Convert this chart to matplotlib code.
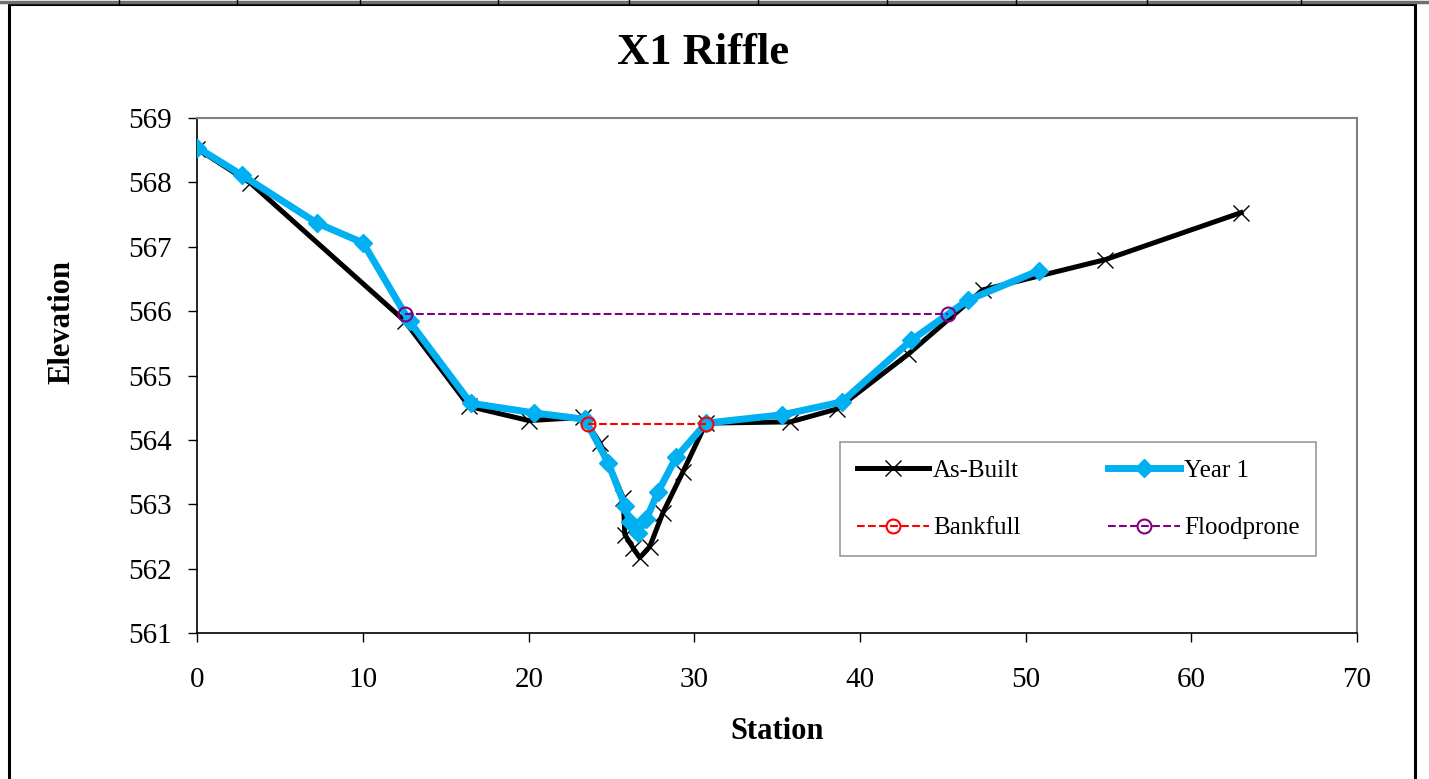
"""X1 Riffle cross-section: as-built vs year 1 survey."""

import matplotlib
matplotlib.use("Agg")
import matplotlib.pyplot as plt
from matplotlib.lines import Line2D
from matplotlib.patches import Rectangle

plt.rcParams['font.family'] = ['Liberation Serif', 'DejaVu Serif']

# As-built survey
asbuilt_station = [0.0, 3.2, 12.5, 16.4, 20.0, 23.3, 24.3, 25.7, 25.8, 26.3, 26.7,
                   27.3, 28.1, 29.3, 30.7, 35.8, 38.6, 42.9, 47.4, 54.8, 63.0]
asbuilt_elev = [568.52, 567.99, 565.85, 564.52, 564.30, 564.35, 563.95, 563.10, 562.53,
                562.32, 562.17, 562.34, 562.87, 563.50, 564.26, 564.28, 564.48, 565.33,
                566.33, 566.80, 567.53]

# Year 1 survey
year1_station = [0.0, 2.7, 7.2, 10.0, 12.8, 16.5, 20.3, 23.4, 24.8, 25.8, 26.1, 26.6,
                 27.1, 27.8, 28.9, 30.7, 35.3, 38.9, 43.1, 46.5, 50.8]
year1_elev = [568.54, 568.11, 567.37, 567.06, 565.84, 564.57, 564.42, 564.32, 563.64,
              562.98, 562.73, 562.56, 562.77, 563.19, 563.73, 564.26, 564.39, 564.59,
              565.55, 566.17, 566.63]

bankfull_station = [23.6, 30.7]
bankfull_elev = [564.25, 564.25]

floodprone_station = [12.5, 45.3]
floodprone_elev = [565.95, 565.95]

fig = plt.figure(figsize=(14.29, 7.79), dpi=100)
ax = fig.add_axes([0.1382, 0.1874, 0.8114, 0.6611])

h_ab, = ax.plot(asbuilt_station, asbuilt_elev, color="black", linewidth=3.6,
                marker="x", markersize=11, markeredgewidth=1.0, label="As-Built", zorder=3)
h_y1, = ax.plot(year1_station, year1_elev, color="#00B0F0", linewidth=5,
                marker="D", markersize=9, label="Year 1", zorder=4)
h_bf, = ax.plot(bankfull_station, bankfull_elev, color="red", linewidth=1.5, linestyle="--",
                marker="o", markersize=10, markerfacecolor="none", markeredgewidth=1.5,
                label="Bankfull", zorder=5)
h_fp, = ax.plot(floodprone_station, floodprone_elev, color="#800080", linewidth=1.5,
                linestyle="--", marker="o", markersize=10, markerfacecolor="none",
                markeredgewidth=1.5, label="Floodprone", zorder=5)

ax.set_xlim(0, 70)
ax.set_ylim(561, 569)
ax.set_xticks(range(0, 71, 10))
ax.set_yticks(range(561, 570))

ax.tick_params(axis="both", direction="out", length=6.5, width=1, labelsize=21)
ax.tick_params(axis="x", pad=18)
ax.tick_params(axis="y", pad=12)

for side in ("left", "bottom"):
    ax.spines[side].set_color("black")
    ax.spines[side].set_linewidth(1.2)
for side in ("top", "right"):
    ax.spines[side].set_color("#808080")
    ax.spines[side].set_linewidth(1.5)

ax.set_xlabel("Station", fontsize=22, fontweight="bold", labelpad=17)
ax.set_ylabel("Elevation", fontsize=22, fontweight="bold")
ax.yaxis.set_label_coords(-0.104, 0.604)
fig.suptitle("X1 Riffle", fontsize=32, fontweight="bold", x=0.492, y=0.957)

# legend fills column-wise, so order gives rows: As-Built / Year 1, Bankfull / Floodprone
leg = ax.legend([h_ab, h_bf, h_y1, h_fp], ["As-Built", "Bankfull", "Year 1", "Floodprone"],
                ncol=2, loc="lower left", bbox_to_anchor=(0.554, 0.149, 0.411, 0.222),
                mode="expand", fontsize=18, frameon=True, fancybox=False,
                edgecolor="#808080", borderpad=0.68, labelspacing=1.4,
                handlelength=2.9, handletextpad=0.15, columnspacing=1.0, borderaxespad=0)
leg.get_frame().set_linewidth(1.2)

# outer chart frame
fig.patches.append(Rectangle((9 / 1429, -0.05), (1415 - 9) / 1429, 1.05 - 4 / 779,
                             transform=fig.transFigure, fill=False,
                             edgecolor="black", linewidth=2.2))
# grey cell border strip at the very top
fig.lines.append(Line2D([0, 1], [1 - 1.5 / 779, 1 - 1.5 / 779], transform=fig.transFigure,
                        color="#707070", linewidth=2.5))
for sx in [119, 237, 360, 498, 629, 758, 887, 1016, 1147, 1301]:
    fig.lines.append(Line2D([sx / 1429, sx / 1429], [1, 1 - 4 / 779],
                            transform=fig.transFigure, color="black", linewidth=1))

fig.savefig("out.png", dpi=100)
